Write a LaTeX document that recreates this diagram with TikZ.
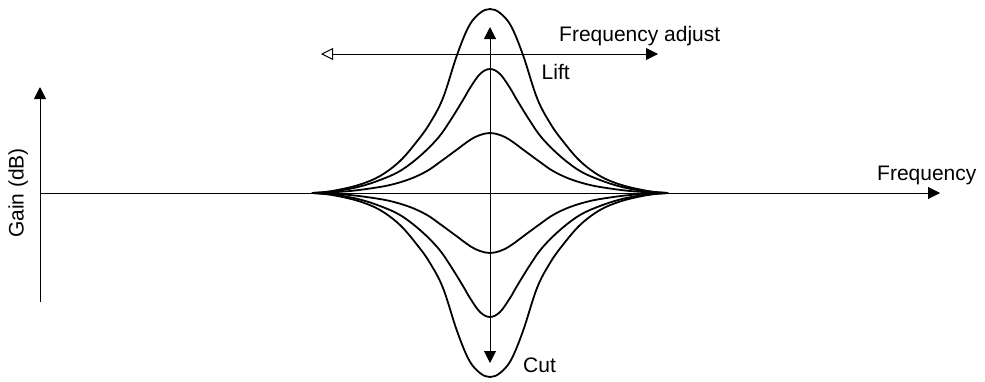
\documentclass[tikz,border=0pt]{standalone}
\usepackage{fontspec}
\setmainfont{Liberation Sans}
\usetikzlibrary{arrows.meta}
\tikzset{
  axisline/.style={line width=1pt},
  bell/.style={line width=1.8pt, line join=round},
  tipfill/.style={-{Triangle[length=12pt,width=12pt]}},
  lbl/.style={font=\fontsize{21}{25}\selectfont, inner sep=0pt}
}
\begin{document}
\begin{tikzpicture}[x=1pt,y=-1pt]
\useasboundingbox (0,0) rectangle (985,381);
% axes
\coordinate (yb) at (40,302);
\coordinate (yt) at (40,87);
\coordinate (xl) at (40,193);
\coordinate (xr) at (940,193);
\draw[axisline,tipfill] (yb) -- (yt);
\draw[axisline,tipfill] (xl) -- (xr);
% bell curves
\foreach \s in {1,-1}{
\begin{scope}[shift={(490,193)},yscale=\s]
\draw[bell] plot[smooth,tension=0.6] coordinates {
 (-178,0) (-165,-1) (-150,-3.5) (-130,-8.5) (-110,-17) (-90,-32) (-72,-53) (-60,-70) (-47,-95) (-33,-138) (-21,-167) (-10,-180) (0,-184)
 (10,-180) (21,-167) (33,-138) (47,-95) (60,-70) (72,-53) (90,-32) (110,-17) (130,-8.5) (150,-3.5) (165,-1) (178,0)};
\draw[bell] plot[smooth,tension=0.6] coordinates {
 (-178,0) (-165,-0.8) (-150,-2.5) (-130,-6.5) (-110,-13) (-90,-22) (-70,-37) (-52,-55) (-40,-72) (-27,-93) (-20,-105) (-10,-119) (0,-124)
 (10,-119) (20,-105) (27,-93) (40,-72) (52,-55) (70,-37) (90,-22) (110,-13) (130,-6.5) (150,-2.5) (165,-0.8) (178,0)};
\draw[bell] plot[smooth,tension=0.6] coordinates {
 (-178,0) (-160,-0.6) (-140,-2) (-120,-4.5) (-100,-8) (-80,-14) (-63,-22) (-50,-31) (-35,-42) (-20,-53) (-10,-58) (0,-60)
 (10,-58) (20,-53) (35,-42) (50,-31) (63,-22) (80,-14) (100,-8) (120,-4.5) (140,-2) (160,-0.6) (178,0)};
\end{scope}}
% centre arrows
\coordinate (ct) at (490,27);
\coordinate (cb) at (490,363);
\draw[axisline,{Triangle[length=12pt,width=12pt]}-{Triangle[length=12pt,width=12pt]}] (cb) -- (ct);
\coordinate (fl) at (321,54);
\coordinate (fr) at (658,54);
\draw[axisline,{Triangle[open,length=12pt,width=12pt]}-{Triangle[length=12pt,width=12pt]}] (fl) -- (fr);
% labels
\node[lbl,anchor=base west] (fa) at (559,41) {Frequency adjust};
\node[lbl,anchor=base west] (lift) at (541.5,79) {Lift};
\node[lbl,anchor=base west] (cut) at (523,372) {Cut};
\node[lbl,anchor=base west] (freq) at (877,180) {Frequency};
\node[lbl,anchor=base,rotate=90] (gain) at (23.5,193) {Gain (dB)};
\end{tikzpicture}
\end{document}
